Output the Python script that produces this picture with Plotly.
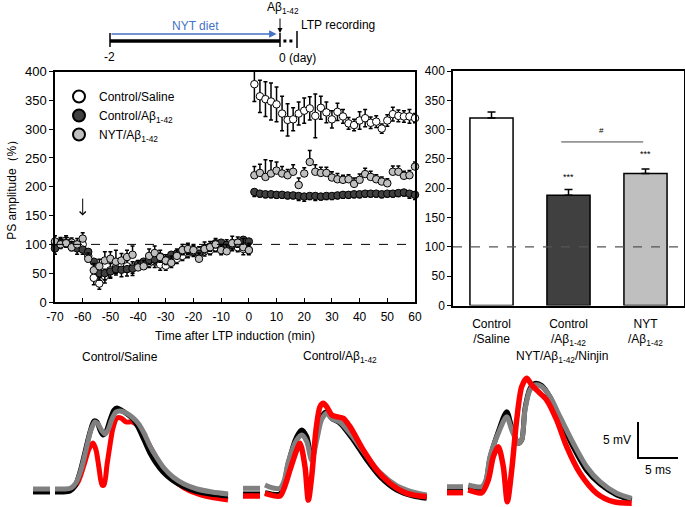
import plotly.graph_objects as go

FONT = "Liberation Sans, Arial, sans-serif"

# ---------------- time-course data ----------------
time_pts = [-70, -68, -66, -64, -62, -60, -58, -56, -54, -52, -50, -48, -46, -44, -42, -40, -38, -36,
            -34, -32, -30, -28, -26, -24, -22, -20, -18, -16, -14, -12, -10, -8, -6, -4, -2, 0,
            2, 4, 6, 8, 10, 12, 14, 16, 18, 20, 22, 24, 26, 28, 30, 32, 34, 36, 38, 40,
            42, 44, 46, 48, 50, 52, 54, 56, 58, 60]
x_tick_vals = [-70, -60, -50, -40, -30, -20, -10, 0, 10, 20, 30, 40, 50, 60]
x_tick_text = ["-70", "-60", "-50", "-40", "-30", "-20", "-10", "0", "10", "20", "30", "40", "50", "60"]

saline_vals = [100, 102, 107, 103, 97, 100, 80, 42, 32, 45, 55, 60, 65, 62, 60, 63, 65, 68,
               70, 65, 63, 72, 75, 80, 85, 90, 88, 88, 90, 95, 92, 98, 100, 95, 92, 90,
               378, 357, 352, 348, 343, 327, 316, 317, 327, 332, 336, 323, 337, 329, 317, 330,
               322, 310, 307, 315, 319, 311, 313, 301, 315, 326, 323, 322, 322, 319]
saline_err = [8, 8, 8, 8, 8, 8, 10, 12, 10, 12, 12, 10, 10, 10, 10, 8, 8, 8,
              10, 10, 8, 12, 8, 8, 8, 8, 8, 8, 8, 8, 10, 10, 8, 8, 10, 8,
              30, 28, 30, 32, 30, 30, 28, 20, 20, 22, 20, 38, 20, 18, 15, 15,
              12, 10, 10, 15, 15, 10, 10, 8, 10, 12, 10, 10, 12, 8]

abeta_vals = [93, 103, 103, 99, 93, 91, 87, 70, 50, 50, 53, 57, 56, 57, 58, 66, 70, 73,
              74, 79, 73, 82, 84, 90, 90, 87, 84, 93, 96, 102, 103, 99, 99, 103, 108, 105,
              191, 188, 187, 187, 186, 186, 185, 185, 184, 183, 184, 184, 183, 184, 184, 185,
              186, 186, 187, 187, 188, 188, 188, 187, 188, 188, 189, 190, 188, 186]
abeta_err = [10, 10, 8, 10, 10, 8, 8, 10, 12, 12, 12, 10, 12, 12, 12, 8, 8, 8,
             8, 10, 8, 8, 8, 8, 8, 8, 10, 8, 8, 8, 8, 8, 10, 8, 8, 10,
             8, 6, 6, 6, 6, 6, 6, 6, 8, 8, 6, 8, 6, 6, 6, 6,
             6, 6, 6, 6, 6, 6, 6, 6, 6, 6, 6, 6, 8, 8]

nyt_vals = [105, 100, 102, 95, 100, 110, 75, 55, 62, 72, 75, 70, 72, 78, 82, 60, 62, 80,
            85, 78, 72, 68, 80, 90, 92, 90, 75, 92, 95, 100, 90, 88, 102, 103, 95, 90,
            220, 224, 217, 223, 228, 223, 220, 226, 203, 223, 243, 226, 224, 224, 216, 213,
            212, 213, 205, 212, 222, 217, 213, 209, 206, 226, 226, 219, 220, 235]
nyt_err = [10, 12, 10, 10, 10, 10, 10, 12, 12, 15, 12, 20, 12, 12, 15, 12, 10, 12,
           12, 12, 10, 12, 12, 10, 10, 10, 10, 12, 10, 10, 10, 12, 12, 10, 15, 12,
           15, 15, 30, 22, 15, 12, 10, 12, 12, 10, 20, 12, 10, 10, 10, 10,
           8, 8, 10, 10, 10, 10, 8, 8, 8, 10, 10, 8, 8, 8]

series_names = ["Control/Saline", "Control/Aβ<sub>1-42</sub>", "NYT/Aβ<sub>1-42</sub>"]

# ---------------- bar data ----------------
bar_cats = ["Control<br>/Saline", "Control<br>/Aβ<sub>1-42</sub>", "NYT<br>/Aβ<sub>1-42</sub>"]
bar_vals = [320, 188, 225]
bar_err = [10, 10, 8]

# ---------------- field potential traces (ms, mV) ----------------
p1_black_t = [0.375, 2.5, None, 3.125, 4.0, 5.0, 5.625, 6.25, 6.875, 7.5, 8.0, 8.375, 8.75, 9.125, 9.5, 10.0,
              10.5, 10.875, 11.375, 12.125, 12.875, 13.5, 14.25, 15.0, 15.75, 16.625, 17.75, 19.0, 20.625, 22.5, 24.75]
p1_black_v = [-0.19, -0.19, None, -0.19, -0.19, -0.06, 0.64, 2.58, 5.36, 8.14, 9.67, 9.53, 8.42, 7.72, 8.14, 9.81,
              11.19, 11.47, 11.19, 10.64, 9.94, 8.83, 7.03, 5.22, 3.83, 2.58, 1.47, 0.64, -0.06, -0.47, -0.75]
p1_gray_t = [0.375, 2.5, None, 3.125, 4.25, 5.125, 5.75, 6.375, 7.0, 7.625, 8.125, 8.5, 9.0, 9.375, 9.75, 10.25,
             10.75, 11.25, 12.0, 12.75, 13.5, 14.25, 15.0, 15.875, 16.75, 17.875, 19.25, 20.875, 22.75, 24.75]
p1_gray_v = [0.22, 0.22, None, 0.22, 0.22, 0.36, 1.06, 2.86, 5.64, 8.42, 9.53, 9.25, 8.28, 7.86, 8.42, 9.94,
             10.92, 11.06, 10.78, 10.22, 9.39, 8.0, 6.19, 4.53, 3.14, 1.89, 0.92, 0.22, -0.19, -0.47]
p1_red_t = [0.375, 2.5, None, 3.125, 4.375, 5.25, 6.0, 6.75, 7.375, 7.875, 8.25, 8.625, 9.0, 9.25, 9.625, 10.0,
            10.375, 10.875, 11.375, 12.0, 12.75, 13.5, 14.375, 15.25, 16.125, 17.125, 18.375, 20.0, 21.875, 24.75]
p1_red_v = [0.08, 0.08, None, 0.08, 0.08, 0.22, 1.19, 3.56, 5.78, 6.61, 5.64, 3.14, 0.78, 0.78, 3.56, 6.33,
            8.69, 10.08, 10.08, 9.53, 9.53, 8.97, 7.44, 5.64, 3.97, 2.44, 1.06, -0.06, -0.75, -1.31]

p2_black_t = [0.375, 2.5, None, 3.125, 5.0, 5.5, 6.04, 7.09, 7.71, 8.34, 8.96, 9.59, 10.21, 10.84, 11.46,
              12.5, 14.16, 15.84, 17.5, 19.59, 21.66, 23.34]
p2_black_v = [-0.47, -0.47, None, -0.29, -0.47, 0.8, 3.79, 7.49, 8.42, 7.49, 4.49, 7.49, 10.26, 10.96, 10.04,
              9.35, 7.03, 4.25, 1.93, 0.08, -0.75, -1.07]
p2_gray_t = [0.375, 2.5, None, 3.125, 4.0, 5.0, 5.5, 6.04, 7.09, 7.71, 8.34, 8.96, 9.59, 10.21, 10.84, 11.46,
             12.5, 14.16, 15.84, 17.5, 19.59, 21.66, 23.34]
p2_gray_v = [0.32, 0.32, None, 0.78, 0.4, 0.32, 1.3, 4.0, 7.03, 7.72, 6.8, 4.2, 7.0, 9.9, 10.74, 10.0,
             9.5, 7.4, 4.8, 2.5, 0.7, -0.2, -0.61]
p2_red_t = [0.375, 2.5, None, 3.125, 5.0, 5.5, 6.25, 7.09, 7.5, 8.125, 8.54, 8.96, 9.5, 10.0, 10.41, 10.84,
            11.46, 12.09, 12.91, 13.75, 15.41, 17.09, 18.75, 20.84, 23.34]
p2_red_v = [-0.75, -0.75, None, -0.38, -0.75, 0.3, 2.86, 5.64, 6.57, 3.32, -1.31, 1.93, 8.42, 11.65, 12.13, 11.65,
            10.5, 10.26, 10.04, 8.88, 5.64, 2.86, 1.01, -0.38, -0.85]

p3_black_t = [0.25, 2.25, None, 2.91, 4.59, 5.125, 5.625, 6.66, 7.71, 8.34, 9.16, 9.59, 10.0, 10.625, 11.25,
              12.09, 13.125, 14.375, 16.04, 17.71, 19.375, 21.46, 23.34]
p3_black_v = [0.32, 0.32, None, 0.5, 0.32, 1.3, 4.5, 8.2, 10.96, 8.8, 6.57, 7.03, 11.4, 14.2, 14.9,
              14.6, 13.0, 9.9, 6.0, 2.8, 0.9, -0.6, -1.31]
p3_gray_t = [0.25, 2.25, None, 2.91, 4.59, 5.125, 5.625, 6.66, 7.71, 8.34, 9.16, 9.59, 10.0, 10.625, 11.25,
             12.09, 13.125, 14.375, 16.04, 17.71, 19.375, 21.46, 23.34]
p3_gray_v = [0.54, 0.54, None, 0.78, 0.54, 1.5, 4.71, 7.96, 10.26, 8.42, 6.57, 7.03, 11.19, 13.97, 14.67,
             14.43, 13.04, 10.26, 6.57, 3.32, 1.24, -0.38, -1.07]
p3_red_t = [0.25, 2.25, None, 2.91, 4.59, 5.41, 6.04, 6.66, 7.29, 7.79, 8.34, 8.96, 9.59, 10.21, 10.84,
            11.66, 12.71, 13.96, 15.21, 16.875, 18.96, 21.04, 23.34]
p3_red_v = [-0.29, -0.29, None, 0.08, -0.29, 1.47, 4.71, 6.10, 3.32, -1.54, 2.86, 9.81, 14.43, 15.60, 14.67,
            13.74, 12.58, 9.81, 6.10, 2.40, -0.38, -1.54, -1.76]

scale_ms = 5
scale_mv = 5

# timeline (days)
diet_start, diet_end, ltp_day = -2, 0, 0.2


def px(x):
    return x / 685.0


def py(y):
    return 1 - y / 507.0


fig = go.Figure()

# ---------- time course ----------
fig.add_trace(go.Scatter(
    x=time_pts, y=saline_vals, mode="markers", name=series_names[0],
    marker=dict(size=7.5, color="white", line=dict(color="black", width=1)),
    error_y=dict(type="data", array=saline_err, symmetric=True, color="black", thickness=1.5, width=2),
    xaxis="x", yaxis="y", cliponaxis=False))
fig.add_trace(go.Scatter(
    x=time_pts, y=abeta_vals, mode="markers", name=series_names[1],
    marker=dict(size=7.5, color="#404040", line=dict(color="black", width=1)),
    error_y=dict(type="data", array=[0] * len(abeta_err), arrayminus=abeta_err, symmetric=False,
                 color="black", thickness=1.5, width=2),
    xaxis="x", yaxis="y", cliponaxis=False))
fig.add_trace(go.Scatter(
    x=time_pts, y=nyt_vals, mode="markers", name=series_names[2],
    marker=dict(size=7.5, color="#bfbfbf", line=dict(color="black", width=1)),
    error_y=dict(type="data", array=nyt_err, arrayminus=[0] * len(nyt_err), symmetric=False,
                 color="black", thickness=1.5, width=2),
    xaxis="x", yaxis="y", cliponaxis=False))

# ---------- bars ----------
fig.add_trace(go.Bar(
    x=bar_cats, y=bar_vals, width=0.56,
    marker=dict(color=["white", "#404040", "#bfbfbf"], line=dict(color="black", width=1.5)),
    error_y=dict(type="data", array=bar_err, arrayminus=[0, 0, 0], symmetric=False,
                 color="black", thickness=1.5, width=4),
    xaxis="x2", yaxis="y2", showlegend=False))

# ---------- traces ----------
def tr(t, v, color, ax, width=5):
    fig.add_trace(go.Scatter(x=t, y=v, mode="lines", line=dict(color=color, width=width, shape="spline",
                                                               smoothing=0.8),
                             xaxis="x" + ax, yaxis="y" + ax, showlegend=False, hoverinfo="skip"))


tr(p1_red_t, p1_red_v, "#ff0000", "4", 5)
tr(p1_black_t, p1_black_v, "#000000", "4", 5)
tr(p1_gray_t, p1_gray_v, "#808080", "4", 5)
tr(p2_black_t, p2_black_v, "#000000", "5", 5)
tr(p2_gray_t, p2_gray_v, "#808080", "5", 5)
tr(p2_red_t, p2_red_v, "#ff0000", "5", 5.5)
tr(p3_black_t, p3_black_v, "#000000", "6", 5)
tr(p3_gray_t, p3_gray_v, "#808080", "6", 5)
tr(p3_red_t, p3_red_v, "#ff0000", "6", 5.5)

sb_x0, sb_y0 = 24.125, 4.53
fig.add_trace(go.Scatter(x=[sb_x0, sb_x0, sb_x0 + scale_ms], y=[sb_y0 + scale_mv, sb_y0, sb_y0],
                         mode="lines", line=dict(color="black", width=2),
                         xaxis="x6", yaxis="y6", showlegend=False, hoverinfo="skip"))

# ---------- timeline ----------
fig.add_trace(go.Scatter(x=[diet_start, diet_end], y=[41, 41], mode="lines",
                         line=dict(color="black", width=3.5), xaxis="x7", yaxis="y7",
                         showlegend=False, hoverinfo="skip"))
fig.add_trace(go.Scatter(x=[diet_end + 0.04, ltp_day - 0.03], y=[41, 41], mode="lines",
                         line=dict(color="black", width=3, dash="dot"), xaxis="x7", yaxis="y7",
                         showlegend=False, hoverinfo="skip"))
for xx, y0, y1 in [(diet_start, 33, 47), (diet_end, 33, 47), (ltp_day, 31, 48)]:
    fig.add_trace(go.Scatter(x=[xx, xx], y=[y0, y1], mode="lines", line=dict(color="black", width=1.5),
                             xaxis="x7", yaxis="y7", showlegend=False, hoverinfo="skip"))

axis_common = dict(showgrid=False, zeroline=False, showline=True, linecolor="black", linewidth=1.5,
                   mirror=True, automargin=False, tickfont=dict(family=FONT, size=12, color="black"))
hidden = dict(visible=False, automargin=False, showgrid=False, zeroline=False)

layout = dict(
    template="none",
    width=685, height=507, margin=dict(l=0, r=0, t=0, b=0, autoexpand=False),
    paper_bgcolor="white", plot_bgcolor="rgba(0,0,0,0)",
    font=dict(family=FONT, size=12, color="black"),
    showlegend=True,
    legend=dict(x=px(59), y=py(82), xanchor="left", yanchor="top", bgcolor="rgba(0,0,0,0)",
                font=dict(family=FONT, size=12), itemsizing="constant", tracegroupgap=0),
    xaxis=dict(axis_common, domain=[px(55), px(415)], range=[-70, 60], tickmode="array",
               tickvals=x_tick_vals, ticktext=x_tick_text, ticks="inside", ticklen=4, tickcolor="black",
               tickwidth=1.2, ticklabelstandoff=3,
               title=dict(text="Time after LTP induction (min)", font=dict(size=12), standoff=8),
               anchor="y"),
    yaxis=dict(axis_common, domain=[py(302), py(71.5)], range=[0, 400], dtick=50, ticks="outside",
               ticklen=4, tickcolor="black", tickwidth=1.2, anchor="x",
               tickfont=dict(family=FONT, size=13, color="black"),
               title=dict(text="PS amplitude（%）", font=dict(size=12), standoff=6)),
    xaxis2=dict(axis_common, domain=[px(453), px(684)], range=[-0.5, 2.5], ticks="", anchor="y2",
                type="category", ticklabelstandoff=6),
    yaxis2=dict(axis_common, domain=[py(305.5), py(71)], range=[0, 400], dtick=50, ticks="outside",
                ticklen=4, tickcolor="black", tickwidth=1.2, anchor="x2"),
    xaxis4=dict(hidden, domain=[px(30), px(235)], range=[0, 25.625], anchor="y4"),
    yaxis4=dict(hidden, domain=[0, py(370)], range=[-2.278, 16.75], anchor="x4"),
    xaxis5=dict(hidden, domain=[px(240), px(440)], range=[0, 25], anchor="y5"),
    yaxis5=dict(hidden, domain=[0, py(370)], range=[-2.278, 16.75], anchor="x5"),
    xaxis6=dict(hidden, domain=[px(445), px(685)], range=[0, 30], anchor="y6"),
    yaxis6=dict(hidden, domain=[0, py(370)], range=[-2.278, 16.75], anchor="x6"),
    xaxis7=dict(hidden, domain=[px(100), px(400)], range=[-2.1176, 1.4118], anchor="y7"),
    yaxis7=dict(hidden, domain=[py(65), 1], range=[65, 0], anchor="x7"),
)
fig.update_layout(**layout)

# dashed 100% lines
fig.add_shape(type="line", xref="x", yref="y", x0=-70, x1=60, y0=100, y1=100,
              line=dict(color="black", width=1, dash="dash"))
fig.add_shape(type="line", xref="x2", yref="y2", x0=-0.5, x1=2.5, y0=100, y1=100,
              line=dict(color="#555555", width=1.2, dash="dash"))
# significance bracket
fig.add_shape(type="line", xref="x2", yref="y2", x0=0.906, x1=1.97, y0=279, y1=279,
              line=dict(color="#444444", width=1))

C = dict(xanchor="center", yanchor="middle", showarrow=False)
ann = []
ann.append(dict(C, x=1.43, y=298, xref="x2", yref="y2", text="#", font=dict(size=8)))
ann.append(dict(C, x=1, y=220, xref="x2", yref="y2", text="***", font=dict(size=9)))
ann.append(dict(C, x=2, y=258, xref="x2", yref="y2", text="***", font=dict(size=9)))
# arrow at -60 min
ann.append(dict(x=-60, y=150, ax=-60, ay=182, xref="x", yref="y", axref="x", ayref="y", text="",
                showarrow=True, arrowhead=4, arrowsize=1.2, arrowwidth=1, arrowcolor="black"))
# panel titles
ann.append(dict(C, x=px(120), y=py(357), xref="paper", yref="paper", text="Control/Saline",
                font=dict(size=12)))
ann.append(dict(C, x=px(340), y=py(357), xref="paper", yref="paper", text="Control/Aβ<sub>1-42</sub>",
                font=dict(size=12)))
ann.append(dict(C, x=px(562), y=py(357), xref="paper", yref="paper", text="NYT/Aβ<sub>1-42</sub>/Ninjin",
                font=dict(size=12)))
# scale bar labels
ann.append(dict(C, x=sb_x0 - 0.6, y=sb_y0 + scale_mv / 2, xref="x6", yref="y6", text="5 mV",
                font=dict(size=12)))
ann[-1]["xanchor"] = "right"
ann.append(dict(C, x=sb_x0 + scale_ms / 2, y=sb_y0 - 1.7, xref="x6", yref="y6", text="5 ms",
                font=dict(size=12)))
# timeline annotations
ann.append(dict(x=diet_end - 0.04, y=34, ax=diet_start, ay=34, xref="x7", yref="y7", axref="x7", ayref="y7",
                text="", showarrow=True, arrowhead=2, arrowsize=1, arrowwidth=1.5, arrowcolor="#4472c4"))
ann.append(dict(C, x=-1.0, y=26, xref="x7", yref="y7", text="NYT diet",
                font=dict(size=12, color="#4472c4")))
ann.append(dict(x=diet_end, y=33, ax=diet_end, ay=17, xref="x7", yref="y7", axref="x7", ayref="y7",
                text="", showarrow=True, arrowhead=2, arrowsize=1, arrowwidth=1, arrowcolor="black"))
ann.append(dict(C, x=0.04, y=8, xref="x7", yref="y7", text="Aβ<sub>1-42</sub>", font=dict(size=12)))
ann.append(dict(C, x=0.22, y=25, xref="x7", yref="y7", text="LTP recording", font=dict(size=12)))
ann[-1]["xanchor"] = "left"
ann.append(dict(C, x=diet_start, y=57, xref="x7", yref="y7", text="-2", font=dict(size=12)))
ann.append(dict(C, x=0.2, y=58, xref="x7", yref="y7", text="0 (day)", font=dict(size=12)))

fig.update_layout(annotations=ann)

fig.write_html("out.html", config={"displayModeBar": False},
               post_script="document.body.style.margin='0px';document.body.style.overflow='hidden';")
